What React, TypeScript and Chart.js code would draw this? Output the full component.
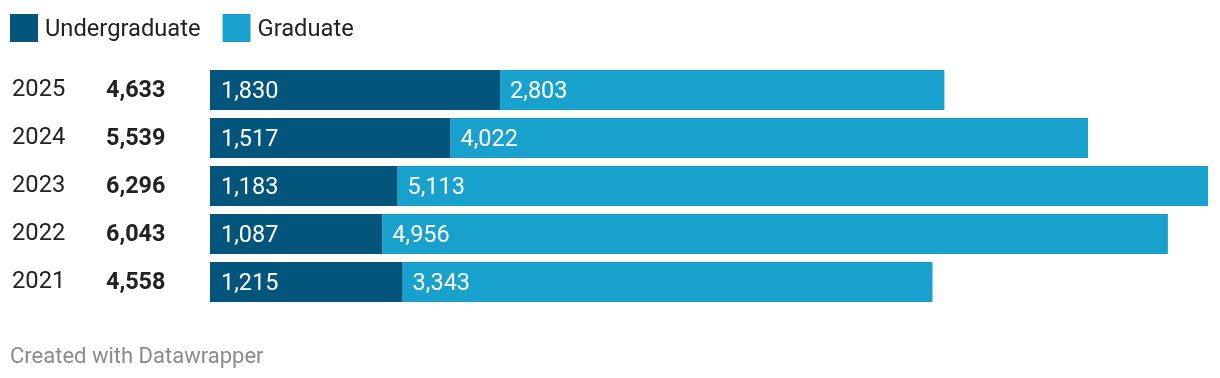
import React, { useEffect, useRef } from "react";
import { Chart, registerables } from "chart.js";

Chart.register(...registerables);

const years = ["2025", "2024", "2023", "2022", "2021"];
const undergraduate = [1830, 1517, 1183, 1087, 1215];
const graduate = [2803, 4022, 5113, 4956, 3343];
const seriesNames = ["Undergraduate", "Graduate"];
const colors = ["#04557c", "#18a1cd"];
const footer = "Created with Datawrapper";

const fmt = (v: number) => v.toLocaleString("en-US");

export default function App() {
  const ref = useRef<HTMLCanvasElement | null>(null);

  useEffect(() => {
    document.body.style.margin = "0";
    const totals = years.map((_, i) => undergraduate[i] + graduate[i]);
    const maxTotal = Math.max(...totals);

    const textPlugin = {
      id: "dwText",
      afterDatasetsDraw(chart: any) {
        const ctx = chart.ctx as CanvasRenderingContext2D;
        ctx.save();
        ctx.textBaseline = "alphabetic";
        ctx.textAlign = "left";
        ctx.font = "23.7px Roboto";
        let lx = 10;
        seriesNames.forEach((name, i) => {
          ctx.fillStyle = colors[i];
          ctx.fillRect(lx, 14, 28, 28);
          ctx.fillStyle = "#222";
          ctx.fillText(name, lx + 35, 36);
          lx += 35 + ctx.measureText(name).width + 22;
        });
        const m0 = chart.getDatasetMeta(0);
        const m1 = chart.getDatasetMeta(1);
        years.forEach((y, i) => {
          const bar0 = m0.data[i];
          const bar1 = m1.data[i];
          const cy = bar0.y;
          ctx.fillStyle = "#222";
          ctx.font = "23.7px Roboto";
          ctx.fillText(y, 12, cy + 6);
          ctx.font = "bold 23.4px Roboto";
          ctx.fillText(fmt(totals[i]), 106, cy + 6.5);
          ctx.fillStyle = "#ffffff";
          ctx.font = "23.5px Roboto";
          ctx.fillText(fmt(undergraduate[i]), bar0.base + 11, cy + 7.5);
          ctx.fillText(fmt(graduate[i]), bar1.base + 10, cy + 7.5);
        });
        ctx.fillStyle = "#8a8a8a";
        ctx.font = "22px Roboto";
        ctx.fillText(footer, 10, 362.5);
        ctx.restore();
      },
    };

    const chart = new Chart(ref.current!, {
      type: "bar",
      data: {
        labels: years,
        datasets: [
          { label: seriesNames[0], data: undergraduate, backgroundColor: colors[0], borderWidth: 0 },
          { label: seriesNames[1], data: graduate, backgroundColor: colors[1], borderWidth: 0 },
        ],
      },
      options: {
        indexAxis: "y",
        animation: false,
        responsive: false,
        maintainAspectRatio: false,
        layout: { padding: { left: 210, right: 12, top: 66, bottom: 72 } },
        datasets: { bar: { barPercentage: 40 / 48, categoryPercentage: 1 } },
        scales: {
          x: { stacked: true, display: false, min: 0, max: maxTotal },
          y: { stacked: true, display: false },
        },
        plugins: { legend: { display: false }, tooltip: { enabled: false } },
      },
      plugins: [textPlugin],
    });
    return () => chart.destroy();
  }, []);

  return (
    <div style={{ position: "absolute", left: 0, top: 0, width: 1220, height: 378, background: "#fff" }}>
      <canvas ref={ref} width={1220} height={378} style={{ width: 1220, height: 378, display: "block" }} />
    </div>
  );
}
